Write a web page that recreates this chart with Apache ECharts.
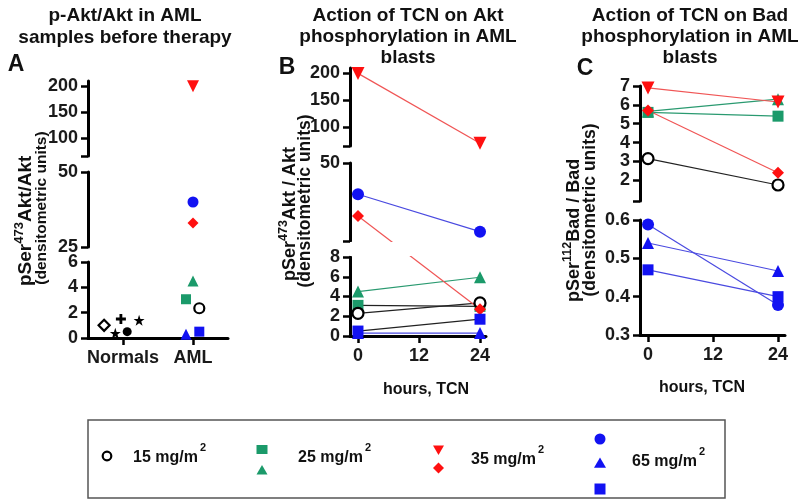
<!DOCTYPE html>
<html><head><meta charset="utf-8">
<script src="https://cdn.jsdelivr.net/npm/echarts@6/dist/echarts.min.js"></script>
<style>html,body{margin:0;padding:0;background:#fff}#c{width:800px;height:503px}</style>
</head><body><div id="c"></div>
<script>
// ================= DATA =================
const categoriesA = ['Normals', 'AML'];
const hours = [0, 24];
// Panel A – normal donors (x = jitter around category 1, y = ratio)
const normalsX = [0.73, 0.89, 0.97, 1.06, 1.23];
const normalsY = [1.0, 0.37, 1.5, 0.5, 1.4];
// Patients (order: 15 open circle, 25 square, 25 triangle, 35 down-triangle, 35 diamond, 65 circle, 65 triangle, 65 square)
const patients = ['o15', 'sq25', 'tri25', 'dtri35', 'dia35', 'circ65', 'tri65', 'sq65'];
const amlJitterX = [2.09, 1.9, 2.0, 2.0, 2.0, 2.0, 1.9, 2.09];
const amlBaseline = [2.35, 3.06, 4.5, 200, 33, 40, 0.3, 0.5];
// Panel B – pSer473Akt/Akt at 0 h and 24 h
const aktB0 = [2.3, 3.1, 4.5, 200, 33, 40, 0.3, 0.5];
const aktB24 = [3.35, 3.0, 5.95, 70, 2.7, 28, 0.3, 1.7];
// Panel C – pSer112Bad/Bad at 0 h and 24 h
const badC0 = [3.15, 5.6, 5.65, 6.9, 5.7, 0.588, 0.54, 0.47];
const badC24 = [1.75, 5.4, 6.3, 6.15, 2.4, 0.378, 0.467, 0.40];
// Tick labels
const ticksA = [[0, 2, 4, 6], [25, 50], [100, 150, 200]];
const ticksB = [[0, 2, 4, 6, 8], [50], [100, 150, 200]];
const ticksC = [[0.3, 0.4, 0.5, 0.6], [2, 3, 4, 5, 6, 7]];
const hourTicks = [0, 12, 24];

// ================= STYLE / LAYOUT =================
const FONT = '"Liberation Sans", Arial, Helvetica, sans-serif';
const GREEN = '#1b9a6a', RED = '#ff1010', BLUE = '#1212f2', BLACK = '#111';
const GREEN_L = '#2a9a70', RED_L = '#f05555', BLUE_L = '#4a4ae0', BLACK_L = '#222';
const pStyle = [
  {symbol: 'circle', size: 10, color: '#fff', border: '#000'},
  {symbol: 'rect', size: 10, color: GREEN},
  {symbol: 'triangle', size: 11, color: GREEN},
  {symbol: 'triangle', size: 12, color: RED, rotate: 180},
  {symbol: 'diamond', size: 11, color: RED},
  {symbol: 'circle', size: 11, color: BLUE},
  {symbol: 'triangle', size: 11, color: BLUE},
  {symbol: 'rect', size: 10, color: BLUE}
];
const lineColB = [BLACK_L, BLACK_L, GREEN_L, RED_L, RED_L, BLUE_L, BLUE_L, BLACK_L];
const lineColC = [BLACK_L, GREEN_L, GREEN_L, RED_L, RED_L, BLUE_L, BLUE_L, BLUE_L];
const orderB = [1, 2, 0, 3, 4, 5, 6, 7];
const orderC = [0, 1, 2, 3, 4, 5, 6, 7];
const STAR = 'path://M50,0 L61.8,35.1 98.9,35.1 69.1,56.7 80.9,91.9 50,70.3 19.1,91.9 30.9,56.7 1.1,35.1 38.2,35.1 Z';
const PLUS = 'path://M36,0 H64 V36 H100 V64 H64 V100 H36 V64 H0 V36 H36 Z';
const normalSym = [
  {symbol: 'diamond', size: 11, color: '#fff', border: '#000'},
  {symbol: STAR, size: 11, color: '#000'},
  {symbol: PLUS, size: 10, color: '#000'},
  {symbol: 'circle', size: 9, color: '#000'},
  {symbol: STAR, size: 11, color: '#000'}
];

const panels = [
  {left: 88, width: 140, xMin: 0.5, xMax: 2.5,
   segs: [
     {min: 0, max: 6, top: 262, bottom: 338, labels: ticksA[0], ticks: ticksA[0]},
     {min: 25, max: 50, top: 172, bottom: 247, labels: ticksA[1], ticks: ticksA[1]},
     {min: 65, max: 210, top: 81, bottom: 156, labels: ticksA[2], ticks: [65].concat(ticksA[2])}
   ], mask: []},
  {left: 350, width: 136, xMin: -1.57, xMax: 25.18,
   segs: [
     {min: 0, max: 8, top: 257, bottom: 336, labels: ticksB[0], ticks: ticksB[0]},
     {min: 25, max: 50, top: 163, bottom: 241, labels: ticksB[1], ticks: [25, 50]},
     {min: 65, max: 210, top: 68, bottom: 146, labels: ticksB[2], ticks: [65].concat(ticksB[2])}
   ], mask: [0]},
  {left: 640, width: 145, xMin: -1.48, xMax: 25.29,
   segs: [
     {min: 0.3, max: 0.6, top: 220, bottom: 335, labels: ticksC[0], ticks: ticksC[0], fmt: v => v.toFixed(1)},
     {min: 0.9, max: 7, top: 86, bottom: 201, labels: ticksC[1], ticks: [0.9].concat(ticksC[1])}
   ], mask: []}
];

const grid = [], xAxis = [], yAxis = [], series = [];
const labelStyle = {fontSize: 18, fontWeight: 'bold', color: '#1a1a1a', fontFamily: FONT};

panels.forEach((p, pi) => {
  p.segs.forEach((s, si) => {
    const gi = grid.length;
    grid.push({left: p.left, top: s.top, width: p.width, height: s.bottom - s.top});
    const isBottom = si === 0;
    const xa = {gridIndex: gi, type: 'value', min: p.xMin, max: p.xMax, show: isBottom,
      axisLine: {show: true, onZero: false, lineStyle: {color: '#000', width: 3}},
      axisTick: {show: true, length: 7, lineStyle: {color: '#000', width: 2.5}},
      axisLabel: Object.assign({margin: 11}, labelStyle),
      splitLine: {show: false}};
    if (pi === 0) {
      xa.axisTick.customValues = [1, 2];
      xa.axisLabel.customValues = [1, 2];
      xa.axisLabel.formatter = v => categoriesA[Math.round(v) - 1];
    } else {
      xa.axisTick.customValues = hourTicks;
      xa.axisLabel.customValues = hourTicks;
    }
    xAxis.push(xa);
    const ya = {gridIndex: gi, type: 'value', min: s.min, max: s.max,
      axisLine: {show: true, onZero: false, lineStyle: {color: '#000', width: 3}},
      axisTick: {show: true, length: 7, customValues: s.ticks, lineStyle: {color: '#000', width: 2.5}},
      axisLabel: Object.assign({margin: 10, customValues: s.labels}, labelStyle),
      splitLine: {show: false}};
    if (s.fmt) ya.axisLabel.formatter = s.fmt;
    yAxis.push(ya);
  });
  // overlay grid (pixel-linear coordinate, piecewise mapping of values)
  const top = p.segs[p.segs.length - 1].top, bottom = p.segs[0].bottom;
  const gi = grid.length;
  grid.push({left: p.left, top: top, width: p.width, height: bottom - top});
  xAxis.push({gridIndex: gi, type: 'value', min: p.xMin, max: p.xMax, show: false});
  yAxis.push({gridIndex: gi, type: 'value', min: 0, max: bottom - top, show: false});
  p.overlay = gi;
  p.T = v => {
    let s = p.segs.find(sg => v >= sg.min && v <= sg.max);
    if (!s) s = v < p.segs[0].min ? p.segs[0] : p.segs[p.segs.length - 1];
    const px = s.bottom - (v - s.min) / (s.max - s.min) * (s.bottom - s.top);
    return bottom - px;
  };
  p.mask.forEach(i => {
    const lo = p.segs[i], hi = p.segs[i + 1];
    series.push({type: 'line', xAxisIndex: gi, yAxisIndex: gi, data: [], z: 5,
      markArea: {silent: true, z: 5, itemStyle: {color: '#fff', opacity: 1},
        data: [[{yAxis: bottom - lo.top + 1}, {yAxis: bottom - hi.bottom - 1}]]}});
  });
});

function itemStyleOf(st) {
  return st.border ? {color: st.color, borderColor: st.border, borderWidth: 2.2, opacity: 1}
                   : {color: st.color, opacity: 1};
}

// Panel A – normals
const pA = panels[0];
series.push({type: 'scatter', xAxisIndex: pA.overlay, yAxisIndex: pA.overlay, clip: false, z: 3,
  data: normalsY.map((v, i) => ({value: [normalsX[i], pA.T(v)], symbol: normalSym[i].symbol,
    symbolSize: normalSym[i].size, itemStyle: itemStyleOf(normalSym[i])}))});
// Panel A – AML
patients.forEach((k, i) => {
  const st = pStyle[i];
  series.push({type: 'scatter', name: k, xAxisIndex: pA.overlay, yAxisIndex: pA.overlay, clip: false, z: 3,
    symbol: st.symbol, symbolSize: st.size, symbolRotate: st.rotate || 0,
    itemStyle: itemStyleOf(st), data: [[amlJitterX[i], pA.T(amlBaseline[i])]]});
});
// Panels B & C – paired lines
function pairSeries(p, v0, v24, lineCols, order) {
  order.forEach(i => {
    const st = pStyle[i];
    series.push({type: 'line', name: patients[i], xAxisIndex: p.overlay, yAxisIndex: p.overlay, clip: false, z: 3,
      symbol: st.symbol, symbolSize: st.size + 1, symbolRotate: st.rotate || 0, showSymbol: true,
      itemStyle: itemStyleOf(st), lineStyle: {color: lineCols[i], width: 1.2},
      data: [[hours[0], p.T(v0[i])], [hours[1], p.T(v24[i])]]});
  });
}
pairSeries(panels[1], aktB0, aktB24, lineColB, orderB);
pairSeries(panels[2], badC0, badC24, lineColC, orderC);

// ================= TEXT (graphic) =================
const g = [];
function txt(x, y, text, size, opts) {
  opts = opts || {};
  const style = {text: text, x: 0, y: 0, fill: opts.fill || '#111',
    font: 'bold ' + size + 'px ' + FONT, fontFamily: FONT, fontWeight: 'bold', fontSize: size,
    align: opts.align || 'center', textAlign: opts.align || 'center',
    verticalAlign: 'middle', textVerticalAlign: 'middle'};
  if (opts.rich) style.rich = opts.rich;
  g.push({type: 'text', x: x, y: y, rotation: opts.rot || 0, style: style, silent: true});
}
// titles
[['p-Akt/Akt in AML', 16], ['samples before therapy', 38]].forEach(t => txt(125, t[1], t[0], 19));
[['Action of TCN on Akt', 16], ['phosphorylation in AML', 37], ['blasts', 58]].forEach(t => txt(408, t[1], t[0], 19));
[['Action of TCN on Bad', 16], ['phosphorylation in AML', 37], ['blasts', 58]].forEach(t => txt(690, t[1], t[0], 19));
// panel letters
txt(16, 65, 'A', 23); txt(287, 68, 'B', 23); txt(585, 69, 'C', 23);
// y axis titles (rotated; anchored at the start of the text, which sits at the bottom)
function richSup(size, ss) {
  return {a: {fontSize: size, fontWeight: 'bold', fontFamily: FONT, fill: '#111', lineHeight: size + 4, verticalAlign: 'bottom'},
          s: {fontSize: ss, fontWeight: 'bold', fontFamily: FONT, fill: '#111', lineHeight: ss * 1.1, verticalAlign: 'top'}};
}
txt(24, 286, '{a|pSer}{s|473}{a|Akt/Akt}', 19, {rot: Math.PI / 2, align: 'left', rich: richSup(19, 13)});
txt(42, 208, '(densitometric units)', 15.5, {rot: Math.PI / 2});
txt(288, 281, '{a|pSer}{s|473}{a|Akt / Akt}', 18, {rot: Math.PI / 2, align: 'left', rich: richSup(18, 12.5)});
txt(305, 201, '(densitometric units)', 17.5, {rot: Math.PI / 2});
txt(572, 302, '{a|pSer}{s|112}{a|Bad / Bad}', 18, {rot: Math.PI / 2, align: 'left', rich: richSup(18, 12.5)});
txt(590, 210, '(densitometric units)', 17.5, {rot: Math.PI / 2});
// x axis titles
txt(426, 390, 'hours, TCN', 16); txt(702, 388, 'hours, TCN', 16);

// ================= LEGEND (graphic) =================
g.push({type: 'rect', shape: {x: 88, y: 420, width: 637, height: 78}, style: {fill: 'none', stroke: '#555', lineWidth: 1.5}, silent: true});
const legendText = ['15 mg/m', '25 mg/m', '35 mg/m', '65 mg/m'];
const legendTextX = [133, 298, 471, 632];
const legendTextY = [454, 454, 456, 458];
legendText.forEach((t, i) => txt(legendTextX[i], legendTextY[i], '{a|' + t + '}{s|2}', 16,
  {align: 'left', rich: {a: {fontSize: 16, fontWeight: 'bold', fontFamily: FONT, fill: '#111', lineHeight: 24, verticalAlign: 'bottom'},
                          s: {fontSize: 11, fontWeight: 'bold', fontFamily: FONT, fill: '#111', lineHeight: 11, verticalAlign: 'top', padding: [0, 0, 0, 2]}}}));
function tri(cx, cy, r, down) {
  return down ? [[cx - r, cy - r * 0.8], [cx + r, cy - r * 0.8], [cx, cy + r * 0.9]]
              : [[cx, cy - r * 0.9], [cx + r, cy + r * 0.8], [cx - r, cy + r * 0.8]];
}
g.push({type: 'circle', shape: {cx: 107, cy: 456, r: 4.3}, style: {fill: '#fff', stroke: '#000', lineWidth: 2.2}, silent: true});
g.push({type: 'rect', shape: {x: 256.5, y: 445, width: 11, height: 9}, style: {fill: GREEN}, silent: true});
g.push({type: 'polygon', shape: {points: tri(262, 470, 5.5)}, style: {fill: GREEN}, silent: true});
g.push({type: 'polygon', shape: {points: tri(438.5, 450, 5.5, true)}, style: {fill: RED}, silent: true});
g.push({type: 'polygon', shape: {points: [[438.5, 462.5], [444, 468], [438.5, 473.5], [433, 468]]}, style: {fill: RED}, silent: true});
g.push({type: 'circle', shape: {cx: 600, cy: 439, r: 5.5}, style: {fill: BLUE}, silent: true});
g.push({type: 'polygon', shape: {points: tri(600, 463, 6)}, style: {fill: BLUE}, silent: true});
g.push({type: 'rect', shape: {x: 594.5, y: 483.5, width: 11, height: 11}, style: {fill: BLUE}, silent: true});

const chart = echarts.init(document.getElementById('c'), null, {renderer: 'canvas'});
chart.setOption({
  animation: false,
  backgroundColor: '#fff',
  grid: grid, xAxis: xAxis, yAxis: yAxis, series: series,
  graphic: g
});
</script></body></html>
